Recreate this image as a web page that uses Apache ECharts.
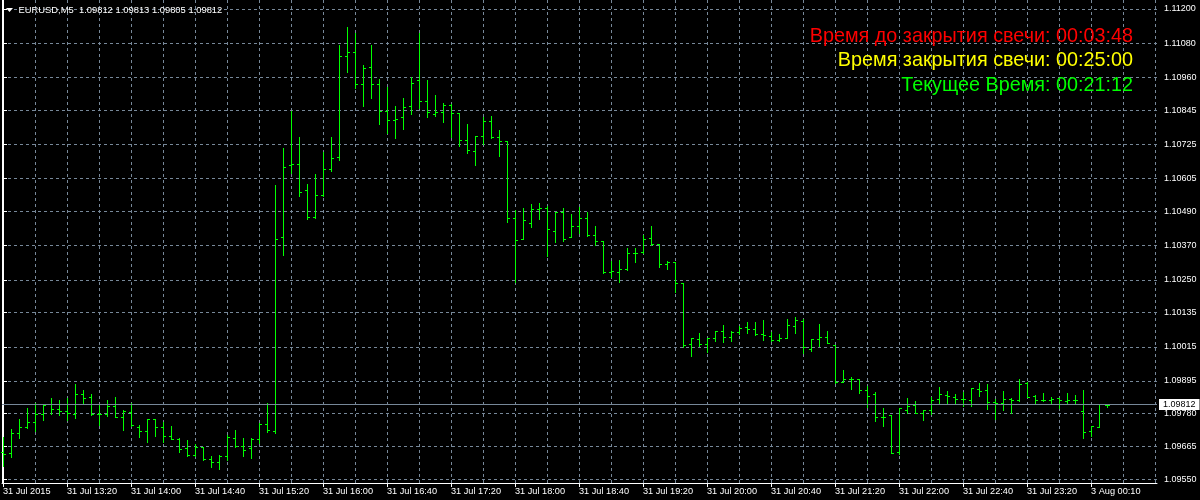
<!DOCTYPE html>
<html><head><meta charset="utf-8">
<script src="https://cdn.jsdelivr.net/npm/echarts@6/dist/echarts.min.js"></script>
<style>html,body{margin:0;padding:0;background:#000}#c{width:1200px;height:500px}</style>
</head><body><div id="c"></div><script>
const symbolTitle = 'EURUSD,M5';
const lastQuote = ['1.09812', '1.09813', '1.09805', '1.09812'];
const currentPrice = 1.09812;

const timeLabels = ['31 Jul 2015','31 Jul 13:20','31 Jul 14:00','31 Jul 14:40','31 Jul 15:20','31 Jul 16:00',
  '31 Jul 16:40','31 Jul 17:20','31 Jul 18:00','31 Jul 18:40','31 Jul 19:20','31 Jul 20:00','31 Jul 20:40',
  '31 Jul 21:20','31 Jul 22:00','31 Jul 22:40','31 Jul 23:20','3 Aug 00:10'];
const timeLabelBars = [0,8,16,24,32,40,48,56,64,72,80,88,96,104,112,120,128,136];
const gridBars = [4,8,12,16,20,24,28,32,36,40,44,48,52,56,60,64,68,72,76,80,84,88,92,96,100,104,108,112,116,120,124,128,132,136,140,144];

const priceTicks = ['1.09550','1.09665','1.09780','1.09895','1.10015','1.10135','1.10250','1.10370',
  '1.10490','1.10605','1.10725','1.10845','1.10960','1.11080','1.11200'];

const infoLines = [
  {text: 'Время до закрытия свечи: 00:03:48', color: '#ff0000'},
  {text: 'Время закрытия свечи: 00:25:00', color: '#ffff00'},
  {text: 'Текущее Время: 00:21:12', color: '#00ff00'}
];

const barOpen = [1.09646,1.09641,1.09711,1.09735,1.09750,1.09779,1.09814,1.09798,1.09790,1.09779,
1.09848,1.09838,1.09779,1.09779,1.09807,1.09770,1.09785,1.09735,1.09719,1.09760,
1.09733,1.09701,1.09691,1.09660,1.09636,1.09662,1.09620,1.09611,1.09632,1.09695,
1.09668,1.09659,1.09691,1.09744,1.09720,1.10399,1.10652,1.10655,1.10564,1.10469,
1.10546,1.10638,1.10680,1.11034,1.11048,1.10936,1.10996,1.10936,1.10842,1.10811,
1.10820,1.10859,1.10950,1.10876,1.10833,1.10837,1.10862,1.10834,1.10739,1.10701,
1.10753,1.10806,1.10750,1.10736,1.10466,1.10392,1.10449,1.10498,1.10502,1.10420,
1.10487,1.10399,1.10439,1.10466,1.10407,1.10385,1.10276,1.10276,1.10287,1.10343,
1.10346,1.10396,1.10376,1.10305,1.10311,1.10238,1.10024,1.10041,1.10024,1.10045,
1.10070,1.10048,1.10066,1.10083,1.10076,1.10059,1.10054,1.10038,1.10045,1.10087,
1.10105,1.10006,1.10043,1.10048,1.10021,1.09891,1.09901,1.09901,1.09863,1.09849,
1.09769,1.09775,1.09645,1.09792,1.09811,1.09782,1.09792,1.09831,1.09845,1.09838,
1.09831,1.09828,1.09868,1.09863,1.09820,1.09817,1.09831,1.09827,1.09888,1.09841,
1.09827,1.09828,1.09834,1.09825,1.09828,1.09790,1.09719,1.09732,1.09812];

const barHigh = [1.09700,1.09726,1.09761,1.09799,1.09817,1.09811,1.09836,1.09828,1.09834,1.09884,
1.09863,1.09849,1.09811,1.09828,1.09839,1.09793,1.09817,1.09739,1.09762,1.09762,
1.09751,1.09737,1.09694,1.09688,1.09674,1.09662,1.09632,1.09635,1.09705,1.09723,
1.09696,1.09694,1.09746,1.09817,1.10582,1.10712,1.10843,1.10751,1.10586,1.10621,
1.10697,1.10751,1.11074,1.11137,1.11117,1.11004,1.11074,1.10953,1.10927,1.10860,
1.10888,1.10961,1.11117,1.10951,1.10898,1.10870,1.10866,1.10834,1.10797,1.10754,
1.10822,1.10825,1.10776,1.10736,1.10495,1.10503,1.10516,1.10518,1.10509,1.10489,
1.10502,1.10481,1.10506,1.10488,1.10439,1.10387,1.10317,1.10318,1.10360,1.10360,
1.10406,1.10439,1.10376,1.10317,1.10311,1.10238,1.10045,1.10063,1.10045,1.10070,
1.10091,1.10069,1.10088,1.10102,1.10102,1.10109,1.10068,1.10060,1.10112,1.10119,
1.10111,1.10042,1.10096,1.10071,1.10021,1.09935,1.09909,1.09902,1.09876,1.09856,
1.09799,1.09775,1.09799,1.09835,1.09824,1.09793,1.09838,1.09873,1.09859,1.09849,
1.09856,1.09869,1.09888,1.09884,1.09831,1.09859,1.09834,1.09902,1.09891,1.09845,
1.09853,1.09839,1.09834,1.09853,1.09846,1.09863,1.09736,1.09814,1.09813];

const barLow = [1.09597,1.09629,1.09696,1.09729,1.09721,1.09758,1.09779,1.09776,1.09758,1.09766,
1.09819,1.09775,1.09742,1.09773,1.09770,1.09723,1.09738,1.09699,1.09682,1.09703,
1.09680,1.09690,1.09645,1.09633,1.09633,1.09618,1.09594,1.09586,1.09618,1.09662,
1.09633,1.09626,1.09676,1.09715,1.09711,1.10337,1.10626,1.10545,1.10463,1.10467,
1.10544,1.10632,1.10670,1.10980,1.10922,1.10860,1.10889,1.10798,1.10764,1.10749,
1.10780,1.10833,1.10854,1.10822,1.10826,1.10805,1.10752,1.10720,1.10694,1.10654,
1.10726,1.10746,1.10685,1.10454,1.10243,1.10392,1.10434,1.10462,1.10333,1.10384,
1.10386,1.10399,1.10415,1.10404,1.10373,1.10274,1.10261,1.10243,1.10284,1.10311,
1.10345,1.10373,1.10294,1.10288,1.10208,1.10013,1.09984,1.10019,1.09996,1.10035,
1.10033,1.10036,1.10059,1.10064,1.10055,1.10039,1.10036,1.10036,1.10045,1.10064,
1.09994,1.10001,1.10019,1.10027,1.09887,1.09890,1.09867,1.09854,1.09805,1.09756,
1.09738,1.09641,1.09638,1.09784,1.09782,1.09758,1.09779,1.09815,1.09815,1.09817,
1.09808,1.09808,1.09843,1.09798,1.09763,1.09793,1.09784,1.09824,1.09840,1.09815,
1.09826,1.09817,1.09801,1.09818,1.09818,1.09696,1.09703,1.09732,1.09805];

const barClose = [1.09638,1.09711,1.09735,1.09750,1.09779,1.09810,1.09798,1.09790,1.09782,1.09848,
1.09834,1.09778,1.09779,1.09807,1.09770,1.09791,1.09739,1.09719,1.09760,1.09733,
1.09701,1.09690,1.09655,1.09636,1.09664,1.09620,1.09612,1.09632,1.09697,1.09668,
1.09653,1.09691,1.09744,1.09723,1.10392,1.10645,1.10655,1.10557,1.10469,1.10546,
1.10638,1.10676,1.11034,1.11048,1.10937,1.10992,1.10936,1.10842,1.10811,1.10814,
1.10855,1.10940,1.10876,1.10838,1.10838,1.10862,1.10834,1.10739,1.10704,1.10753,
1.10806,1.10750,1.10736,1.10466,1.10389,1.10460,1.10497,1.10501,1.10427,1.10488,
1.10394,1.10439,1.10466,1.10406,1.10385,1.10276,1.10280,1.10287,1.10343,1.10343,
1.10392,1.10376,1.10305,1.10311,1.10238,1.10020,1.10045,1.10024,1.10045,1.10070,
1.10049,1.10067,1.10080,1.10076,1.10060,1.10056,1.10038,1.10045,1.10091,1.10108,
1.10014,1.10041,1.10048,1.10027,1.09890,1.09901,1.09901,1.09863,1.09841,1.09769,
1.09770,1.09641,1.09799,1.09806,1.09782,1.09792,1.09827,1.09848,1.09841,1.09831,
1.09831,1.09869,1.09860,1.09820,1.09818,1.09831,1.09828,1.09885,1.09840,1.09827,
1.09827,1.09833,1.09828,1.09827,1.09829,1.09715,1.09736,1.09814,1.09812];

const barColor = '#00ff00';
const gridColor = '#778899';
const uiFont = '"Liberation Sans", Arial, sans-serif';

const seriesData = barOpen.map((o, i) => [i, o, barHigh[i], barLow[i], barClose[i]]);
const priceTickValues = priceTicks.map(Number);

const chart = echarts.init(document.getElementById('c'), null, {renderer: 'canvas'});

const yRange = {min: 1.09537, max: 1.112316};
const xRange = {min: -0.125, max: 144.25};

chart.setOption({
  backgroundColor: '#000000',
  animation: false,
  grid: {left: 2, right: 43, top: 0, bottom: 17, containLabel: false},
  xAxis: [
    {
      type: 'value', position: 'bottom', min: xRange.min, max: xRange.max,
      axisLine: {show: true, lineStyle: {color: '#ffffff', width: 1}},
      axisTick: {show: true, customValues: timeLabelBars, length: 4, lineStyle: {color: '#ffffff'}},
      axisLabel: {show: true, customValues: timeLabelBars, align: 'left', margin: 4,
        color: '#ffffff', fontFamily: uiFont, fontSize: 9.2,
        formatter: v => { const k = timeLabelBars.indexOf(Math.round(v)); return k >= 0 ? timeLabels[k] : ''; }},
      splitLine: {show: false}
    },
    {
      type: 'value', position: 'top', min: xRange.min, max: xRange.max,
      axisLine: {show: false}, axisLabel: {show: false},
      axisTick: {show: false, customValues: gridBars},
      splitLine: {show: true, lineStyle: {color: gridColor, type: [3, 3], width: 1}}
    }
  ],
  yAxis: [
    {
      type: 'value', position: 'right', min: yRange.min, max: yRange.max,
      axisLine: {show: true, lineStyle: {color: '#ffffff', width: 1}},
      axisTick: {show: true, customValues: priceTickValues, length: 4, lineStyle: {color: '#ffffff'}},
      axisLabel: {show: true, customValues: priceTickValues, margin: 7, color: '#ffffff',
        fontFamily: uiFont, fontSize: 9, formatter: v => v.toFixed(5)},
      splitLine: {show: true, lineStyle: {color: gridColor, type: [3, 3], width: 1}}
    },
    {
      type: 'value', position: 'left', min: yRange.min, max: yRange.max,
      axisLine: {show: true, onZero: false, lineStyle: {color: '#ffffff', width: 1}},
      axisTick: {show: false}, axisLabel: {show: false}, splitLine: {show: false}
    }
  ],
  series: [
    {
      type: 'line', xAxisIndex: 0, yAxisIndex: 0, data: [], symbol: 'none', silent: true, z: 2,
      markLine: {
        silent: true, symbol: 'none', animation: false, precision: 5,
        lineStyle: {color: gridColor, type: 'solid', width: 1},
        label: {show: true, position: 'end', distance: 2, formatter: currentPrice.toFixed(5),
          backgroundColor: '#ffffff', color: '#000000', padding: [1, 4, 1, 4],
          fontFamily: uiFont, fontSize: 9},
        data: [{yAxis: currentPrice}]
      }
    },
    {
      type: 'custom',
      xAxisIndex: 0, yAxisIndex: 0,
      data: seriesData,
      encode: {x: 0, y: [1, 2, 3, 4]},
      renderItem: function (params, api) {
        const i = api.value(0);
        const ph = api.coord([i, api.value(2)]);
        const x = Math.round(ph[0]);
        const yH = Math.round(ph[1]);
        const yL = Math.round(api.coord([i, api.value(3)])[1]);
        const yO = Math.round(api.coord([i, api.value(1)])[1]);
        const yC = Math.round(api.coord([i, api.value(4)])[1]);
        const st = {fill: barColor};
        return {type: 'group', children: [
          {type: 'rect', shape: {x: x, y: yH, width: 1, height: Math.max(1, yL - yH + 1)}, style: st},
          {type: 'rect', shape: {x: x - 2, y: yO, width: 2, height: 1}, style: st},
          {type: 'rect', shape: {x: x + 1, y: yC, width: 2, height: 1}, style: st}
        ]};
      },
      z: 3
    }
  ],
  graphic: [
    {type: 'polygon', shape: {points: [[6, 8], [13, 8], [9.5, 12]]}, style: {fill: '#ffffff'}, z: 10},
    {type: 'text', x: 18.5, y: 10.5, z: 10, style: {
      text: symbolTitle + '  ' + lastQuote.join(' '), fill: '#ffffff', font: '9.4px ' + uiFont,
      align: 'left', verticalAlign: 'middle'}},
    ...infoLines.map((ln, k) => ({type: 'text', x: 1133, y: 36.5 + k * 24.3, z: 10, style: {
      text: ln.text, fill: ln.color, font: '19.8px ' + uiFont, align: 'right', verticalAlign: 'middle'}}))
  ]
});
</script></body></html>
